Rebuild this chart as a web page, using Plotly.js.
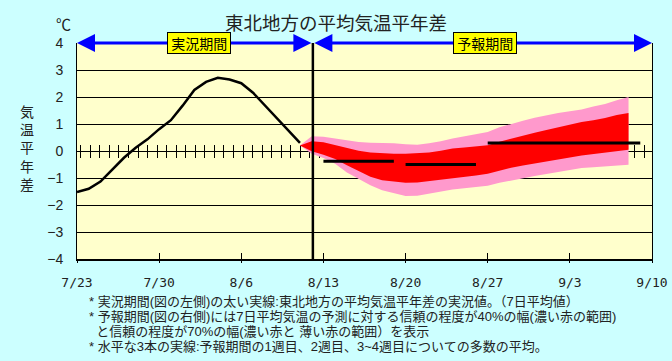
<!DOCTYPE html>
<html><head><meta charset="utf-8">
<script src="https://cdn.plot.ly/plotly-3.0.1.min.js"></script>
<style>html,body{margin:0;padding:0;background:#CCFFFF;}#chart{width:672px;height:361px;}</style>
</head><body><div id="chart"></div>
<script>
// x positions are days counted from 7/23
const tickDays = [0, 7, 14, 21, 28, 35, 42, 49];
const tickLabels = ['7/23', '7/30', '8/6', '8/13', '8/20', '8/27', '9/3', '9/10'];

// observed 7-day mean anomaly (7/23 .. 8/11)
const actualDays = [0,1,2,3,4,5,6,7,8,9,10,11,12,13,14,15,16,17,18,19];
const actualAnom = [-1.52,-1.40,-1.13,-0.70,-0.25,0.12,0.43,0.81,1.14,1.68,2.26,2.56,2.71,2.65,2.51,2.16,1.70,1.20,0.75,0.30];

// forecast ranges (8/11 .. 9/8)
const fcDays = [19,20,21,22,23,24,25,26,27,28,29,30,31,32,33,34,35,36,37,38,39,40,41,42,43,44,45,46,47];
const pinkTop = [0.20,0.55,0.53,0.46,0.38,0.33,0.31,0.30,0.29,0.25,0.23,0.29,0.36,0.46,0.54,0.62,0.70,0.88,1.01,1.12,1.23,1.33,1.41,1.47,1.54,1.65,1.74,1.88,2.00];
const redTop  = [0.20,0.36,0.32,0.21,0.10,0.01,-0.06,-0.09,-0.10,-0.10,-0.09,-0.06,0.01,0.09,0.13,0.17,0.21,0.34,0.46,0.57,0.68,0.78,0.88,0.98,1.07,1.14,1.22,1.33,1.41];
const redBot  = [0.20,-0.01,-0.14,-0.30,-0.53,-0.74,-0.95,-1.08,-1.14,-1.18,-1.17,-1.12,-1.06,-1.00,-0.95,-0.91,-0.84,-0.72,-0.62,-0.54,-0.46,-0.39,-0.32,-0.24,-0.17,-0.11,-0.06,0.00,0.05];
const pinkBot = [0.20,-0.10,-0.26,-0.47,-0.80,-1.03,-1.27,-1.45,-1.56,-1.67,-1.66,-1.58,-1.50,-1.43,-1.38,-1.33,-1.29,-1.18,-1.09,-1.00,-0.93,-0.85,-0.77,-0.70,-0.63,-0.60,-0.57,-0.53,-0.51];

// weekly ensemble means: week1, week2, weeks 3-4
const weekStart = [21, 28, 35];
const weekEnd = [27, 34, 48];
const weekMean = [-0.38, -0.50, 0.30];

const boundaryDay = 20.1;
const xMax = 49;

const footnotes = [
  '* 実況期間(図の左側)の太い実線:東北地方の平均気温平年差の実況値。（7日平均値）',
  '* 予報期間(図の右側)には7日平均気温の予測に対する信頼の程度が40%の幅(濃い赤の範囲)',
  '  と信頼の程度が70%の幅(濃い赤と 薄い赤の範囲）を表示',
  '* 水平な3本の実線:予報期間の1週目、2週目、3~4週目についての多数の平均。'
];

const JP = '"Noto Sans CJK JP", "Noto Sans", sans-serif';
const NOTE = '"Liberation Sans", "Noto Sans CJK JP", sans-serif';

const traces = [
  {x: fcDays, y: pinkBot, type: 'scatter', mode: 'lines', line: {width: 0, color: '#FF99CC'}, hoverinfo: 'skip', showlegend: false},
  {x: fcDays, y: pinkTop, type: 'scatter', mode: 'lines', fill: 'tonexty', fillcolor: '#FF99CC', line: {width: 0, color: '#FF99CC'}, hoverinfo: 'skip', showlegend: false},
  {x: fcDays, y: redBot, type: 'scatter', mode: 'lines', line: {width: 0, color: '#FF0000'}, hoverinfo: 'skip', showlegend: false},
  {x: fcDays, y: redTop, type: 'scatter', mode: 'lines', fill: 'tonexty', fillcolor: '#FF0000', line: {width: 0, color: '#FF0000'}, hoverinfo: 'skip', showlegend: false},
  {x: actualDays, y: actualAnom, type: 'scatter', mode: 'lines', line: {color: '#000000', width: 2.5}, showlegend: false}
];
weekMean.forEach((v, i) => {
  traces.push({x: [weekStart[i], weekEnd[i]], y: [v, v], type: 'scatter', mode: 'lines', line: {color: '#000000', width: 3}, showlegend: false});
});

const annotations = [
  {text: '東北地方の平均気温平年差', xref: 'paper', yref: 'paper', x: 0.45, y: 1, yshift: 21, showarrow: false, xanchor: 'center', yanchor: 'middle', font: {family: JP, size: 18.5, color: '#222222'}},
  {text: '℃', xref: 'paper', yref: 'paper', x: 0, xshift: -14, y: 1, yshift: 20, showarrow: false, xanchor: 'center', yanchor: 'middle', font: {family: JP, size: 15, color: '#222222'}},
  {text: '気<br>温<br>平<br>年<br>差', xref: 'paper', yref: 'paper', x: 0, xshift: -50, y: 0.5, yshift: 4, showarrow: false, xanchor: 'center', yanchor: 'middle', font: {family: JP, size: 14, color: '#222222'}},
  {text: '', x: 0, y: 4, ax: boundaryDay, ay: 4, axref: 'x', ayref: 'y', xref: 'x', yref: 'y', showarrow: true, arrowside: 'end+start', arrowhead: 2, startarrowhead: 2, arrowsize: 1.2, startarrowsize: 1.2, arrowwidth: 3, arrowcolor: '#0000FF', standoff: 0, startstandoff: 0},
  {text: '', x: xMax, y: 4, ax: boundaryDay, ay: 4, axref: 'x', ayref: 'y', xref: 'x', yref: 'y', showarrow: true, arrowside: 'end+start', arrowhead: 2, startarrowhead: 2, arrowsize: 1.2, startarrowsize: 1.2, arrowwidth: 3, arrowcolor: '#0000FF', standoff: 0, startstandoff: 0},
  {text: '&nbsp;実況期間&nbsp;', x: 10.4, y: 4, xref: 'x', yref: 'y', showarrow: false, xanchor: 'center', yanchor: 'middle', bgcolor: '#FFFF00', bordercolor: '#000000', borderwidth: 1, borderpad: 0, font: {family: JP, size: 14, color: '#000000'}},
  {text: '&nbsp;予報期間&nbsp;', x: 34.8, y: 4, xref: 'x', yref: 'y', showarrow: false, xanchor: 'center', yanchor: 'middle', bgcolor: '#FFFF00', bordercolor: '#000000', borderwidth: 1, borderpad: 0, font: {family: JP, size: 14, color: '#000000'}}
];
// footnote line centres, px below the plot's bottom edge
const footShift = [-42, -57.5, -72, -87];
footnotes.forEach((t, i) => {
  annotations.push({text: t.replace(/ /g, '&nbsp;'), xref: 'paper', yref: 'paper', x: 0, xshift: 10, y: 0, yshift: footShift[i], showarrow: false, xanchor: 'left', yanchor: 'middle', align: 'left', font: {family: NOTE, size: 13, color: '#222222'}});
});

const helperTicks = {
  overlaying: 'x', anchor: 'free', position: 0.5, range: [0, xMax],
  tickmode: 'linear', tick0: 1.13, dtick: 0.814, ticks: 'outside', ticklen: 6, tickwidth: 1, tickcolor: '#000000',
  showticklabels: false, showgrid: false, zeroline: false, showline: false, layer: 'below traces'
};

const layout = {
  width: 672, height: 361,
  margin: {l: 77, r: 20, t: 43, b: 102},
  paper_bgcolor: '#CCFFFF',
  plot_bgcolor: '#FFFFCC',
  showlegend: false,
  xaxis: {
    range: [0, xMax], tickmode: 'array', tickvals: tickDays, ticktext: tickLabels,
    showgrid: false, zeroline: false, showline: true, linecolor: '#000000', linewidth: 2,
    ticks: 'inside', ticklen: 6, tickwidth: 1, tickcolor: '#000000',
    ticklabelstandoff: 10,
    tickfont: {family: '"DejaVu Sans Mono", monospace', size: 13, color: '#222222'}
  },
  xaxis4: {
    overlaying: 'x', anchor: 'y', side: 'bottom', range: [0, xMax], tickmode: 'array', tickvals: tickDays,
    showticklabels: false, showgrid: false, zeroline: false, showline: false,
    ticks: 'outside', ticklen: 3, tickwidth: 1, tickcolor: '#000000'
  },
  xaxis2: Object.assign({side: 'bottom'}, helperTicks),
  xaxis3: Object.assign({side: 'top'}, helperTicks),
  yaxis: {
    range: [-4, 4], dtick: 1, tick0: 0, showgrid: true, gridcolor: '#000000', gridwidth: 1,
    zeroline: true, zerolinecolor: '#000000', zerolinewidth: 1,
    showline: true, linecolor: '#000000', linewidth: 1, mirror: true,
    ticks: '', ticklabelstandoff: 10,
    tickfont: {family: '"Liberation Sans", Arial, sans-serif', size: 14, color: '#222222'}
  },
  shapes: [
    {type: 'line', xref: 'x', yref: 'paper', x0: boundaryDay, x1: boundaryDay, y0: 0, y1: 1, line: {color: '#000000', width: 2.5}, layer: 'above'}
  ],
  annotations: annotations
};

// invisible traces that activate the helper axes
['x2', 'x3', 'x4'].forEach(ax => {
  traces.push({x: [0], y: [0], xaxis: ax, type: 'scatter', mode: 'markers', marker: {opacity: 0}, hoverinfo: 'skip', showlegend: false});
});

Plotly.newPlot('chart', traces, layout, {staticPlot: true, displayModeBar: false});
</script></body></html>
